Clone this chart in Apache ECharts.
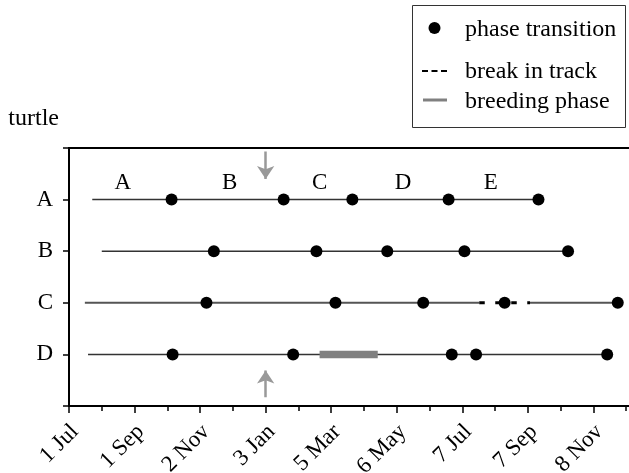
<!DOCTYPE html>
<html><head><meta charset="utf-8">
<script src="https://cdn.jsdelivr.net/npm/echarts@6/dist/echarts.min.js"></script>
<style>html,body{margin:0;padding:0;background:#fff}#c{width:629px;height:473px}</style>
</head><body><div id="c"></div>
<script>
// ---- data (days since 1 Jul) ----
const turtles = ['A', 'B', 'C', 'D'];
const tickLabels = ['1 Jul', '1 Sep', '2 Nov', '3 Jan', '5 Mar', '6 May', '7 Jul', '7 Sep', '8 Nov'];
const trackStart = [22, 31, 15, 18];
const trackEnd = [444, 472, 519, 509];
const transA = [97, 203, 268, 359, 444];
const transB = [137, 234, 301, 374, 472];
const transC = [130, 252, 335, 412, 519];
const transD = [98, 212, 362, 385, 509];
const breakC = [388, 436];
const breedingD = [237, 292];
const phaseNames = ['A', 'B', 'C', 'D', 'E'];
const phaseDays = [51, 152, 237, 316, 399];
const arrowDay = 186;

const FONT = 'Liberation Serif';
const rowY = i => 4 - i;
const transitions = [transA, transB, transC, transD];

const series = [];
// tracks
turtles.forEach((t, i) => {
  const segs = (t === 'C')
    ? [[trackStart[i], breakC[0]], [breakC[1], trackEnd[i]]]
    : [[trackStart[i], trackEnd[i]]];
  segs.forEach(s => {
    series.push({
      type: 'line', silent: true, showSymbol: false, animation: false, z: 2,
      lineStyle: { color: t === 'C' ? '#555' : '#333', width: t === 'C' ? 2 : 1.5 },
      data: [[s[0], rowY(i)], [s[1], rowY(i)]]
    });
  });
});
// break in track
series.push({
  type: 'line', name: 'break in track', silent: true, showSymbol: false, animation: false, z: 3,
  lineStyle: { color: '#000', width: 3, type: [5.5, 10.5] },
  data: [[breakC[0], rowY(2)], [breakC[1], rowY(2)]]
});
// breeding phase
series.push({
  type: 'line', name: 'breeding phase', silent: true, showSymbol: false, animation: false, z: 3,
  lineStyle: { color: '#808080', width: 7.5 },
  data: [[breedingD[0], rowY(3)], [breedingD[1], rowY(3)]]
});
// phase transitions
const dots = [];
transitions.forEach((arr, i) => arr.forEach(d => dots.push([d, rowY(i)])));
series.push({
  type: 'scatter', name: 'phase transition', symbol: 'circle', symbolSize: 12, z: 5, animation: false,
  itemStyle: { color: '#000', opacity: 1 }, data: dots
});
// phase labels
series.push({
  type: 'scatter', symbolSize: 0, z: 4, silent: true, animation: false,
  itemStyle: { opacity: 1, color: '#000' },
  label: {
    show: true, position: 'inside', formatter: p => p.value[2], fontFamily: FONT, fontSize: 23,
    color: '#000', textBorderWidth: 0, textBorderColor: 'transparent', textShadowBlur: 0
  },
  data: phaseNames.map((n, k) => [phaseDays[k], 4.32, n])
});
// arrows
series.push({
  type: 'lines', coordinateSystem: 'cartesian2d', silent: true, animation: false, z: 4,
  symbol: ['none', 'arrow'], symbolSize: [11, 13],
  lineStyle: { color: '#999', width: 2.5, opacity: 1 },
  data: [
    { coords: [[arrowDay, 4.93], [arrowDay, 4.40]] },
    { coords: [[arrowDay, 0.17], [arrowDay, 0.69]] }
  ]
});

const chart = echarts.init(document.getElementById('c'), null, { renderer: 'canvas' });
chart.setOption({
  animation: false,
  backgroundColor: '#fff',
  grid: { left: 69, width: 590, top: 148, height: 258, outerBoundsMode: 'none', containLabel: false, show: true, borderColor: '#000', borderWidth: 2 },
  xAxis: {
    type: 'value', min: 0, max: 558, interval: 62,
    axisLine: { lineStyle: { color: '#000', width: 2 } },
    axisTick: { length: 7, lineStyle: { color: '#000', width: 1.5 } },
    minorTick: { show: true, splitNumber: 2, length: 5, lineStyle: { color: '#000', width: 1.5 } },
    splitLine: { show: false },
    axisLabel: {
      rotate: 45, margin: 12, fontFamily: FONT, fontSize: 23, color: '#000',
      align: 'right', verticalAlign: 'top', padding: [0, 3, 0, 0],
      formatter: v => tickLabels[Math.round(v / 62)] || ''
    }
  },
  yAxis: {
    type: 'value', min: 0, max: 5, interval: 1,
    name: 'turtle', nameLocation: 'end', nameGap: 17,
    nameTextStyle: { fontFamily: FONT, fontSize: 24, color: '#000', align: 'right', verticalAlign: 'bottom', padding: [0, 10, 0, 0] },
    axisLine: { show: true, lineStyle: { color: '#000', width: 2 } },
    axisTick: { show: true, length: 6, lineStyle: { color: '#000', width: 1.5 } },
    splitLine: { show: false },
    axisLabel: {
      margin: 16, fontFamily: FONT, fontSize: 23, color: '#000',
      formatter: v => (v >= 1 && v <= 4) ? turtles[4 - v] : ''
    }
  },
  graphic: [
    { type: 'rect', shape: { x: 412.5, y: 5.5, width: 213, height: 122 }, style: { fill: '#fff', stroke: '#333', lineWidth: 1 }, z: 10 },
    { type: 'circle', shape: { cx: 434.5, cy: 28, r: 6 }, style: { fill: '#000' }, z: 11 },
    { type: 'line', shape: { x1: 422, y1: 71, x2: 447, y2: 71 }, style: { stroke: '#000', lineWidth: 2, lineDash: [6, 3.5] }, z: 11 },
    { type: 'line', shape: { x1: 423, y1: 100, x2: 447, y2: 100 }, style: { stroke: '#808080', lineWidth: 3 }, z: 11 },
    { type: 'text', x: 465, y: 30, style: { text: 'phase transition', font: '24px "Liberation Serif"', fill: '#000', textVerticalAlign: 'middle' }, z: 11 },
    { type: 'text', x: 465, y: 72, style: { text: 'break in track', font: '24px "Liberation Serif"', fill: '#000', textVerticalAlign: 'middle' }, z: 11 },
    { type: 'text', x: 465, y: 102, style: { text: 'breeding phase', font: '24px "Liberation Serif"', fill: '#000', textVerticalAlign: 'middle' }, z: 11 }
  ],
  series: series
});
</script>
</body></html>
